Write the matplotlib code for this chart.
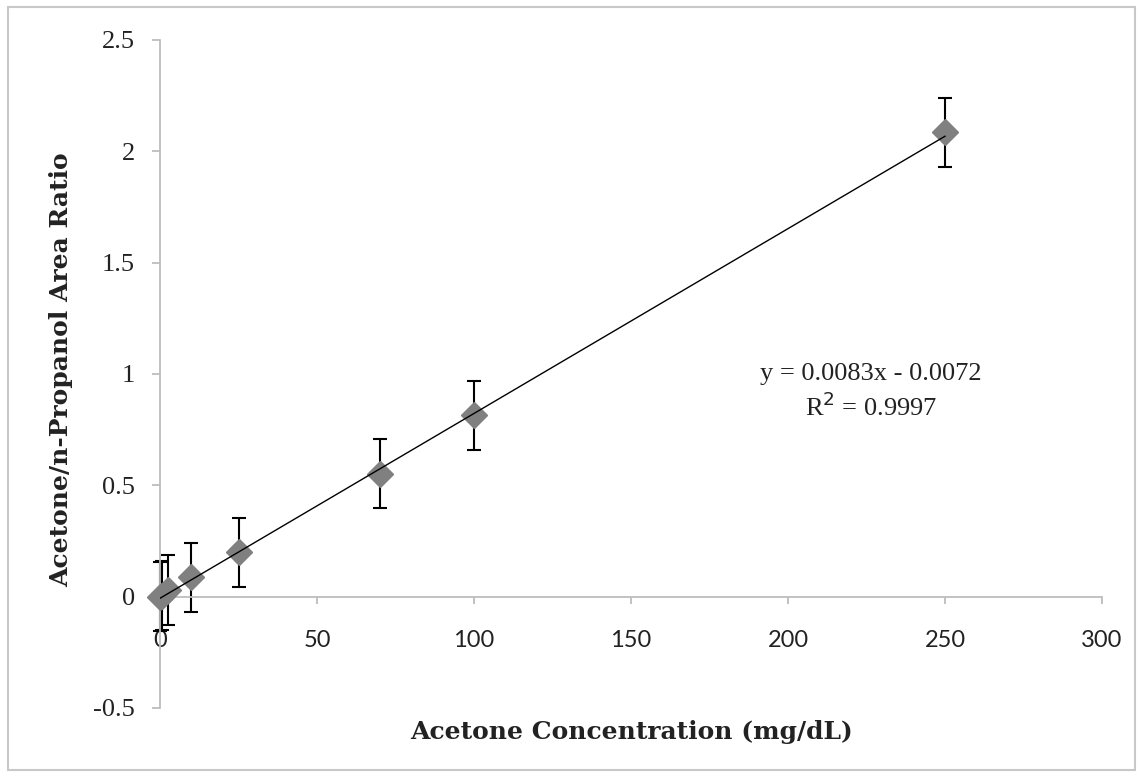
import matplotlib
matplotlib.use("Agg")
import matplotlib.pyplot as plt
from matplotlib.patches import Rectangle
import numpy as np

# Data
concentration = [0, 0.5, 2.5, 10, 25, 70, 100, 250]
area_ratio = [0.0, 0.005, 0.03, 0.088, 0.20, 0.553, 0.815, 2.085]
error = [0.155, 0.155, 0.155, 0.155, 0.155, 0.153, 0.155, 0.155]
slope = 0.0083
intercept = -0.0072
r_squared = 0.9997
x_ticks = [0, 50, 100, 150, 200, 250, 300]
y_ticks = [-0.5, 0, 0.5, 1, 1.5, 2, 2.5]
y_tick_labels = ["-0.5", "0", "0.5", "1", "1.5", "2", "2.5"]

W, H = 1143, 778
fig = plt.figure(figsize=(W / 100, H / 100), dpi=100)
fig.patch.set_facecolor("white")
fig.patches.append(Rectangle((8 / W, 1 - 770 / H), (1135 - 8) / W, (770 - 7) / H,
                             transform=fig.transFigure, fill=False,
                             edgecolor="#c8c8c8", linewidth=1.5))

ax = fig.add_axes([160 / W, 1 - 708 / H, (1102 - 160) / W, (708 - 40) / H])
ax.set_xlim(0, 300)
ax.set_ylim(-0.5, 2.5)

spine_col = "#bdbdbd"
for s in ["top", "right"]:
    ax.spines[s].set_visible(False)
ax.spines["left"].set_color(spine_col)
ax.spines["bottom"].set_color(spine_col)
ax.spines["left"].set_linewidth(1.3)
ax.spines["bottom"].set_linewidth(1.3)
ax.spines["bottom"].set_position(("data", 0))
ax.spines["left"].set_position(("data", 0))

ax.set_xticks(x_ticks)
ax.set_xticklabels([str(t) for t in x_ticks], family="Lato", fontsize=17, color="#222222")
ax.set_yticks(y_ticks)
ax.set_yticklabels(y_tick_labels, family="Liberation Serif", fontsize=19, color="#222222")
ax.tick_params(axis="x", direction="out", length=5, width=1.3, color=spine_col, pad=19)
ax.tick_params(axis="y", direction="out", length=6, width=1.3, color=spine_col, pad=12)

ax.errorbar(concentration, area_ratio, yerr=error, fmt="none", ecolor="black",
            elinewidth=1.5, capsize=4.7, capthick=1.5, zorder=2, clip_on=False)
ax.plot(concentration, area_ratio, linestyle="none", marker="D", markersize=13,
        markerfacecolor="#808080", markeredgecolor="#808080", zorder=3, clip_on=False)
fx = np.array([concentration[0], concentration[-1]])
ax.plot(fx, slope * fx + intercept, color="black", linewidth=1.0, zorder=4)

eq_x = 226.5
ax.text(eq_x, 1.0, "y = %.4fx - %.4f" % (slope, -intercept), family="Liberation Serif",
        fontsize=19, ha="center", va="center", color="#222222")
ax.text(eq_x, 0.852, "R$^2$ = %.4f" % r_squared, family="Liberation Serif",
        fontsize=19, ha="center", va="center", color="#222222")

fig.text(632 / W, 1 - 732 / H, "Acetone Concentration (mg/dL)", family="DejaVu Serif",
         fontweight="bold", fontsize=18, ha="center", va="center", color="#222222")
fig.text(61 / W, 1 - 370 / H, "Acetone/n-Propanol Area Ratio", family="DejaVu Serif",
         fontweight="bold", fontsize=18, ha="center", va="center", rotation=90, color="#222222")

fig.savefig("out.png", dpi=100, facecolor="white")
